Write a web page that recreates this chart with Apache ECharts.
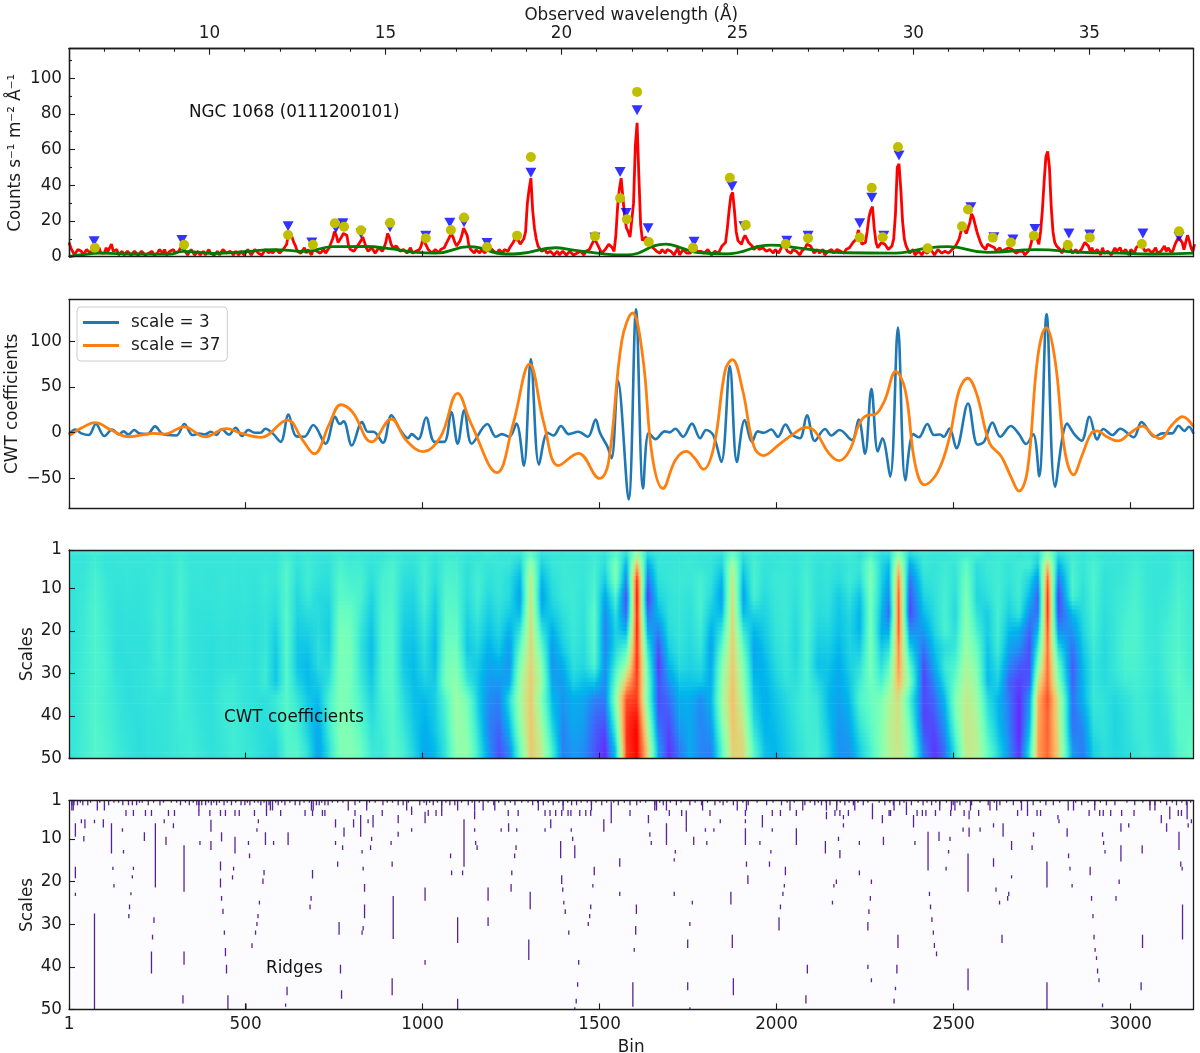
<!DOCTYPE html>
<html>
<head>
<meta charset="utf-8">
<style>html,body{margin:0;padding:0;background:#fff}#chart{width:1200px;height:1053px}</style>
<script src="https://cdn.jsdelivr.net/npm/echarts@6/dist/echarts.min.js"></script>
</head>
<body>
<div id="chart"></div>
<script>
// ---------- spectrum: values at bins 1,11,21,... and at bins 6,16,26,... ----------
const spectrumStep = 10;
const spectrumA = [
8,3,2,4,1,4,2,5,3,2, 2,3,7,2,1,3,1,2,1,2, 1,3,1,2,1,2,3,4,1,2, 2,3,6,3,2,3,2,1,3,2,
2,1,3,2,4,1,2,3,1,2, 2,3,2,4,3,2,3,4,2,4, 3,5,13,11,6,4,3,2,3,4, 3,2,4,3,5,14,8,11,14,6,
5,4,6,11,5,4,6,3,4,5, 13,7,4,6,3,4,3,2,3,4, 10,6,3,2,3,4,5,9,13,8, 5,12,17,6,3,4,2,3,4,5,
3,2,3,4,3,6,10,9,6,14, 38,26,10,5,3,2,3,1,3,2, 2,1,3,2,1,2,3,4,8,9, 4,3,5,8,3,28,44,22,14,12,
62,45,9,11,7,5,3,2,3,4, 3,1,5,2,4,1,3,6,2,4, 2,3,2,4,3,5,16,34,26,9, 7,12,8,6,5,4,5,3,4,2,
3,4,7,3,2,4,2,3,5,8, 4,3,2,4,2,3,2,4,3,2, 4,6,7,15,7,8,22,28,8,6, 8,6,5,10,50,38,10,4,3,1,
3,1,4,2,3,1,3,2,4,3, 5,7,14,16,14,24,18,11,6,4, 8,7,3,5,2,3,6,3,2,4, 1,3,9,14,7,26,56,50,14,6,
4,3,9,4,3,2,4,8,6,5, 2,3,5,1,4,2,3,5,1,3, 4,2,6,9,3,4,2,5,1,4, 3,6,4,9,12,4,12,5,7
];
const spectrumB = [
5,1,4,3,2,5,3,6,5,1, 5,2,3,4,2,1,3,1,3,1, 3,1,2,3,1,4,2,1,3,4, 1,5,4,1,4,1,3,2,1,4,
3,2,1,4,2,3,1,2,3,1, 4,1,4,2,1,4,2,2,4,2, 4,7,14,8,3,2,5,4,1,3, 4,3,2,5,10,12,8,13,12,4,
3,6,9,8,3,5,2,5,3,8, 11,5,6,3,4,2,5,3,2,6, 8,4,2,4,2,3,7,11,11,6, 9,16,12,4,2,3,4,2,3,4,
2,4,2,3,5,8,11,7,10,30, 44,16,6,3,4,1,2,2,1,3, 1,3,1,2,3,1,2,6,10,6, 2,4,7,5,12,38,33,16,11,30,
75,18,10,9,6,4,2,4,2,3, 2,3,1,4,2,2,5,3,3,2, 4,1,3,2,6,8,26,36,14,8, 10,10,7,4,6,3,4,2,3,4,
2,6,5,2,4,3,1,4,7,6, 2,4,3,1,3,4,1,3,2,4, 5,8,10,11,6,14,26,16,5,8, 7,4,6,24,52,20,6,2,4,2,
2,3,2,4,1,4,2,3,2,4, 6,10,17,13,19,22,14,8,5,7, 6,5,4,3,4,5,4,2,3,3, 2,5,13,10,14,42,59,28,8,5,
2,6,6,2,4,3,6,7,3,2, 4,1,2,3,1,5,4,2,4,1, 3,5,7,5,2,5,3,2,3,6, 5,2,7,11,8,8,9,3
];
const continuumBins = [1,32,92,177,283,325,410,495,580,665,749,834,919,975,1037,1133,1236,1276,1376,1417,1518,1575,1687,1730,1772,1857,1985,2059,2197,2325,2350,2430,2485,2596,2734,2861,2970,3056,3178];
const continuumVals = [0,1,2,1.5,1.4,3,1.8,2.8,4,3,5.6,5.7,4.3,2.6,2,5.6,1.5,1.8,5,4,1.5,1,7,5,2.5,1.6,6.5,5,2.2,2,2.2,5,5.6,2.4,4,2.5,2,1.5,2];
const peakBins = [74,326,620,690,752,778,826,908,1009,1080,1117,1182,1267,1306,1487,1558,1577,1606,1639,1764,1868,1913,2026,2089,2235,2269,2300,2343,2427,2524,2541,2611,2662,2727,2823,2885,3032,3137];
const peakVals = [5,6.7,12.2,6.7,18.7,16.8,14.8,19,10.3,15,22,5.4,11.8,55.8,11.4,32.8,21,92.3,8.2,5,44.2,17.8,7.1,10.3,10.7,38.6,10.9,61.4,4.7,17,26.4,10.7,8,11.8,6.5,10.7,7.1,14.2];
const triBins = [72,320,620,687,755,775,826,908,1009,1077,1117,1182,1306,1487,1558,1575,1606,1637,1767,1874,1908,2029,2089,2235,2269,2303,2346,2549,2614,2668,2730,2826,2885,3035,3137];
const triVals = [8.6,9.4,17,8,16,18.7,13,16.5,11.8,19,19.3,7.7,47,10.7,47.4,24.5,82,16,8.4,39.5,17,9,11.8,18.7,33,11.8,56.7,27.7,10.9,9.6,15.5,13,12.4,13,11];

// ---------- CWT slices ----------
const scale3Bins = [1,19,36,57,77,101,123,142,155,169,185,201,223,244,266,304,327,350,369,385,401,418,432,453,472,490,507,526,542,556,577,599,621,642,666,691,726,753,766,777,800,829,845,861,888,912,937,959,969,988,1010,1034,1061,1081,1099,1118,1139,1183,1207,1224,1245,1265,1286,1306,1329,1353,1370,1391,1413,1440,1467,1489,
1500,1509,1522,1534,1552,1582,1603,1623,1639,1658,1684,1698,1714,1736,1761,1784,1801,1821,1844,1868,1888,1910,1931,1947,1964,1985,2004,2025,2045,2066,2086,2108,2137,2155,2178,2213,2232,2250,2268,2286,2299,2321,2343,2364,2386,2402,2426,2445,2462,2472,2489,2508,2541,2568,2586,2610,2632,2662,2684,2705,2725,2742,2763,2787,2821,2841,2862,2884,2906,2923,2949,2971,3009,3031,3068,3090,3117,3136,3152,3165,3178];
const scale3Vals = [-1.5,3.6,-0.7,-2.5,9.5,-3.6,3.6,-2,1.5,-2,3,-1,-1.5,7,-1.5,-3,9.5,-2.5,-1,-2,1,-2.5,4,-2,5.5,-3.6,3,0,0,4.4,-1,-10,20,-3.6,-4.4,8.4,-12,17.5,9.5,12.4,-14,11.6,1,1,-11,19,3,-6,-1.5,-7,16.7,-10,-10,22.5,-12,24.7,-12,9.5,-4.4,-1.5,-4.4,10,-36,80.7,-35,0,-3,7.3,-1.5,1,-4.4,14.5,
1,-6,-15,-28,57,-73,135,-61,0,-7,1.5,0.4,4.4,-4.4,10,-6,3,-2.5,-32,73,-32,14,-10,1.5,0,3.6,-4.4,9,-2.5,-6,19,-9,4,-3,3,-8,14.5,-23,48,-20.5,-6,-48,115,-52,-1.5,-5,9.5,-2.5,-2,-4.4,4.7,-17,32,-13,-10,11,-4.4,7.3,-1,-12.4,-1.5,-47.5,130,-59,10,-1.5,-8.7,17.5,-7.3,4,-2.5,4.4,-5,11.6,-4.4,-0.7,-0.7,7.6,2,6.5,-1];
const scale37Bins = [1,39,75,120,169,239,271,326,385,445,488,544,618,661,694,737,769,802,856,912,953,1002,1051,1099,1137,1210,1256,1302,1343,1384,1440,1500,1525,1563,1593,1622,1649,1679,1714,1745,1769,1793,1823,1855,1875,1904,1936,1963,2007,2050,2083,2110,2148,2177,2207,2234,2256,2278,2305,2337,2364,2391,2418,2456,2489,2516,2540,2565,2602,2635,2662,2685,2709,2738,2762,2787,2814,2839,2862,2889,2906,2933,2965,2998,3034,3063,3084,3117,3147,3178];
const scale37Vals = [-3.3,5.8,11,2.9,-4.4,-0.7,-1.5,6.5,-4.4,4.4,-0.7,-5,13.8,-8,-23,10,30.6,22.5,-10,15,-8,-20.7,-4.4,43,10,-43.6,10,75,10,-36,-22.5,-50,-33,101,131,83,-26,-61,-30,-20.5,-28,-40,-15,68.5,80,47,-15,-25,-13,-0.7,5.8,1,-22.5,-30.5,-19,10,19,20,35,67,46,-33.5,-57,-42.5,-4.4,46.5,59.6,43,-11.6,-26,-48,-64,-41,83,115,79,-19,-46,-26,-0.7,2,-4.4,-9,-0.7,7.3,-2.5,-6.5,8.4,17.5,6.5];

// ---------- CWT image: one row per scale, one value per column bin ----------
const cwtColumnBins = [15,45,75,105,135,165,195,225,255,285, 315,345,375,405,435,465,495,525,555,585, 615,645,675,705,735,765,795,825,855,885, 915,945,975,1005,1035,1065,1095,1125,1155,1185, 1215,1245,1275,1305,1335,1365,1395,1425,1455,1485, 1515,1545,1575,1605,1635,1665,1695,1725,1755,1785, 1815,1845,1875,1905,1935,1965,1995,2025,2055,2085, 2115,2145,2175,2205,2235,2265,2295,2317,2344,2375, 2415,2445,2475,2505,2535,2565,2595,2625,2655,2685, 2715,2738,2765,2795,2835,2865,2895,2925,2955,2985, 3015,3045,3075,3105,3135,3165];
const cwtRowScales = [2,4.5,8,12,16,20,24,28,32,36,40,44,48];
const cwtRow01 = [0,0,3,0,0,0,0,0,1,0, 2,0,0,0,0,0,0,0,0,0, 5,-1,2,0,0,4,1,2,0,0, 4,0,0,3,0,3,3,0,-1,3, 0,0,0,18,-4,0,0,1,0,3, -2,14,-6,42,-8,0,0,0,2,0, 0,-3,20,-3,4,0,0,1,0,3, 0,0,0,4,-3,10,-4,-6,32,-8, 2,0,0,2,5,6,0,3,2,0, 2,-4,34,-6,4,0,3,0,0,1, 2,1,0,0,3,1];
const cwtRow02 = [0,0,5,-1,0,0,0,0,2,0, 5,0,0,0,0,0,0,0,0,0, 10,-2,4,-1,-2,9,4,4,-2,3, 9,-1,-2,7,-3,7,6,-3,3,-1, 1,0,-12,42,-12,0,2,1,0,5, -5,30,-26,85,-28,1,0,1,2,0, -1,-11,48,-13,8,-2,0,1,-1,5, -2,0,-3,1,0,25,-8,-20,72,-28, 2,-1,3,0,18,-4,2,4,-1,4, 5,-14,78,-24,7,0,8,0,0,1, 5,1,0,0,6,2];
const cwtRow03 = [0,1,8,1,-1,0,-1,0,3,-1, 7,0,0,-1,1,0,0,-1,2,0, 13,-5,5,-3,-4,13,7,8,-5,7, 11,-4,-5,8,-5,10,9,-4,6,-3, 1,-6,-22,58,-22,-4,2,2,0,8, -14,30,-40,125,-46,-3,1,2,1,7, -3,-22,60,-22,9,-3,2,2,-1,7, -3,0,-6,3,-5,30,-10,-28,100,-45, -3,-1,5,-2,24,-6,0,5,-2,5, -10,-35,112,-45,10,-2,10,-2,0,2, 8,1,0,0,7,3];
const cwtRow04 = [-1,2,9,2,-2,-1,-2,-1,4,-1, 7,-1,-1,-1,0,-1,0,-2,1,-3, 12,-8,2,-7,-7,15,13,8,-10,8, 11,-7,-9,8,-11,13,11,-6,6,-8, 0,-7,-30,62,-30,-7,1,3,-2,11, -28,10,-58,135,-62,-10,-2,1,-2,8, -7,-30,66,-30,7,-7,1,3,-3,8, -4,-2,-14,-2,-18,28,-14,-38,112,-55, -10,-3,7,-5,30,-9,-4,6,-6,4, -22,-50,125,-60,8,-5,9,-3,1,4, 9,1,0,2,9,4];
const cwtRow05 = [-1,3,10,3,-3,-2,-2,-1,5,-2, 8,-1,-2,-2,0,-2,-1,-3,0,-6, 14,-10,-5,-6,-11,22,20,4,-14,10, 12,-10,-12,4,-15,16,15,-10,2,-13, -4,-14,-20,66,-20,-14,-4,3,-3,16, -36,-4,-50,130,-45,-22,-3,1,-4,7, -15,-20,70,-20,-10,-10,0,3,-5,10, -6,-4,-16,-8,-22,26,-20,-48,115,-58, -20,-6,8,-8,34,-2,-14,7,-12,0, -38,-45,125,-55,-22,-6,8,-5,1,6, 10,2,0,4,11,4];
const cwtRow06 = [-1,3,10,4,-3,-3,-3,-2,5,-2, 7,-1,-3,-3,-1,-3,-1,-4,0,-11, 14,-13,-11,-6,-13,26,24,0,-17,10, 13,-13,-15,0,-18,18,18,-13,-3,-18, -8,-25,0,68,0,-25,-8,2,-4,16, -40,-10,-25,130,-25,-40,-6,0,-6,4, -25,0,72,2,-22,-14,-2,3,-7,10, -10,-8,-18,-10,-22,28,-25,-25,112,-35, -32,-10,8,-4,38,8,-14,6,-20,-25, -50,-20,115,-35,-35,-10,6,-6,1,8, 10,2,0,6,11,5];
const cwtRow07 = [-1,4,10,5,-4,-3,-3,-2,5,-2, 6,-1,-3,-4,-2,-3,-1,-4,1,-14, 14,-15,-16,-4,-12,28,26,-2,-20,10, 14,-15,-18,-4,-20,22,24,-16,-8,-24, -14,-32,18,70,18,-32,-14,0,-6,14, -38,-8,10,125,0,-55,-12,-2,-8,0, -30,16,74,18,-28,-18,-4,2,-8,9, -14,-12,-22,-10,-14,28,-14,-5,100,-10, -45,-18,-5,0,42,20,-18,4,-28,-35, -55,5,108,-5,-45,-15,3,-7,1,9, 10,3,0,7,12,5];
const cwtRow08 = [0,4,10,6,-3,-4,-3,-2,4,-1, 6,-1,-3,-4,-2,-3,-1,-4,2,-16, 14,-16,-20,-6,-8,28,26,0,-18,10, 14,-14,-20,-6,-18,25,30,-8,-14,-28, -24,-34,32,72,32,-34,-24,-4,-8,10, -36,4,40,125,15,-62,-22,-6,-10,-6, -28,30,76,30,-26,-22,-8,1,-6,8, -18,-16,-26,-12,-4,28,-5,15,95,15, -55,-26,2,10,48,28,-20,-4,-36,-50, -55,30,108,20,-52,-20,0,-7,0,8, 8,3,-1,7,14,6];
const cwtRow09 = [0,5,10,6,-1,-4,-3,-1,2,-1, 6,0,-3,-4,1,2,-1,-4,3,-16, 14,-10,-20,-14,-2,29,26,3,-15,11, 14,-10,-20,-12,-14,28,36,2,-15,-32, -32,-28,42,74,40,-28,-32,-10,-18,-15, -38,20,80,120,25,-55,-35,-15,-16,-14, -26,36,78,38,-20,-24,-12,-2,-4,7, -8,-18,-28,-16,4,24,8,30,85,30, -58,-38,-6,20,54,35,-20,-10,-48,-58, -50,60,108,35,-50,-22,0,-6,-2,4, 6,3,-2,6,16,9];
const cwtRow10 = [0,6,11,6,0,-4,-3,-1,-1,-1, 5,1,-3,-3,3,3,-1,-3,-4,3, 13,0,-15,-20,8,30,25,8,-10,8, 14,-5,-18,-20,-12,12,42,25,-12,-35, -40,-5,45,75,30,-20,-33,-25,-27,-40, -40,35,115,120,25,-55,-45,-25,-24,-36, -22,40,80,45,-14,-25,-16,-8,0,6, 0,-20,-30,-20,11,20,28,47,66,8, -56,-47,-20,30,58,43,-5,-22,-42,-64, -30,83,115,60,-45,-23,1,-2,-8,-3, 4,2,-4,3,14,13];
const cwtRow11 = [0,6,11,7,1,-3,-4,-2,-1,0, 4,2,-2,-3,2,4,0,-2,-5,0, 13,4,-14,-24,6,30,28,12,-6,6, 14,-2,-16,-22,-14,8,42,30,-8,-38, -44,-14,42,76,40,-14,-36,-26,-30,-46, -50,22,120,130,40,-50,-52,-28,-26,-38, -28,34,78,55,-8,-24,-18,-10,-1,6, 2,-18,-32,-26,4,18,30,50,64,18, -58,-52,-28,24,60,48,2,-20,-40,-66, -25,85,110,62,-46,-32,-2,-2,-9,-4, 3,3,-4,1,14,15];
const cwtRow12 = [0,6,12,8,2,-2,-4,-3,-1,0, 3,3,-1,-3,1,4,1,-2,-6,-4, 12,8,-10,-28,2,30,30,16,-2,4, 14,2,-14,-26,-16,4,40,34,-2,-38, -50,-24,34,76,48,-4,-40,-28,-32,-50, -58,6,122,135,55,-40,-58,-34,-26,-38, -34,24,76,62,2,-22,-20,-12,-3,5, 4,-14,-34,-30,-4,14,32,52,62,28, -52,-58,-36,14,60,52,10,-16,-38,-66, -14,88,110,66,-42,-38,-6,-2,-9,-5, 2,3,-4,-1,13,16];
const cwtRow13 = [1,6,12,9,3,-1,-4,-3,-2,0, 2,4,0,-3,0,4,2,-1,-6,-8, 11,12,-4,-30,-4,28,32,22,2,2, 14,6,-10,-28,-20,0,36,38,4,-32, -54,-36,22,76,56,8,-40,-32,-36,-52, -64,-14,120,135,70,-28,-62,-42,-26,-38, -40,14,72,68,14,-18,-22,-14,-5,4, 6,-10,-34,-34,-12,8,32,50,60,36, -42,-62,-44,2,58,54,20,-8,-34,-62, 0,90,108,70,-32,-42,-12,-4,-8,-6, 0,3,-3,-3,10,18];
const cwtRows = [cwtRow01,cwtRow02,cwtRow03,cwtRow04,cwtRow05,cwtRow06,cwtRow07,cwtRow08,cwtRow09,cwtRow10,cwtRow11,cwtRow12,cwtRow13];
const cwtMin = -75, cwtMax = 135;

// ---------- ridges: [bin, scale from, scale to] ----------
const deepRidges = [
[19,6.3,9.5],[19,16.5,19.2],[19,22.6,23.4],[43,9.3,10.6],[46,5.4,7.5],[36,5.4,6.3],[73,27.5,50],[73,5.5,6.3],[98,5.4,7.3],[121,6.3,13.4],[125,16.5,17.3],[128,20.6,21.4],[152,7.5,8.3],[155,12.6,13.4],[183,16.5,17.3],[180,18.5,19.3],[176,22.5,23.2],[172,25.4,26.5],[170,27.6,28.6],[214,8.4,10.5],[245,6.3,21.4],[241,28.4,29.7],[237,32.5,33.6],[234,36.4,41.6],[275,9.5,11.4],[270,5.4,6.3],[296,6.3,7.5],[326,11.5,22.4],[326,36.4,39.5],[323,46.7,48.6],[371,10.5,11.4],[402,5.5,8.3],[402,10.5,12.6],[432,8.4,10.6],[429,15.3,17.4],[429,19.3,21.4],[432,23.4,24.5],[436,26.4,27.6],[440,31.5,32.5],[443,35.6,37.5],[446,39.5,41.6],[450,46.7,50],[470,9.5,13.4],[466,16.5,17.4],[463,18.5,19.5],[508,10.5,11.4],[511,13.4,14.5],[501,48.6,50],[536,5.4,6.3],[532,7.5,8.3],[556,8.4,11.4],[579,10.5,11.4],[620,8.4,11.4],[552,17.3,18.5],[549,19.3,20.6],[539,24.5,25.4],[535,27.6,28.6],[532,29.5,30.4],[528,31.5,32.5],[518,34.5,35.6],[617,44.7,46.7],[613,48.6,49.4],[689,17.3,19.3],[685,23.4,24.5],[682,25.4,26.5],[754,10.5,11.4],[760,15.3,16.5],[764,29.5,32.5],[768,39.5,41.6],[771,45.5,47.5],[754,5.4,7.3],[778,7.3,9.5],[774,11.5,12.6],[805,5.4,7.3],[825,4.4,9.5],[829,12.6,13.4],[832,16.5,17.4],[836,20.6,22.4],[836,25.4,28.6],[832,30.4,31.5],[829,31.5,32.5],[856,9.5,10.5],[853,11.5,12.6],[860,4.4,7.3],[846,5.4,6.3],[911,10.5,11.4],[914,15.3,16.5],[917,23.4,33.5],[914,42.7,46.7],[931,4.4,6.3],[931,8.3,9.5],
[969,7.5,8.3],[969,2.4,4.4],[1007,3.6,6.3],[1079,13.4,14.5],[1082,17.4,18.5],[1117,5.4,16.5],[1113,17.4,18.5],[1007,21.4,24.5],[1007,38.4,39.5],[1099,28.4,34.4],[1099,47.5,50],[1147,3.3,5.4],[1147,7.5,8.3],[1150,10.5,11.4],[1154,11.5,12.6],[1185,21.4,24.5],[1185,28.4,30.4],[1222,7.5,8.3],[1243,6.3,8.3],[1266,7.5,8.3],[1264,11.5,12.6],[1260,13.4,14.5],[1252,17.4,18.5],[1250,20.6,22.4],[1304,22.4,26.5],[1300,33.6,38.4],[1346,7.5,8.3],[1362,5.4,7.5],[1390,10.5,14.5],[1393,18.5,20.6],[1396,21.4,22.4],[1399,24.5,25.4],[1403,26.5,27.6],[1413,31.5,32.5],[1420,7.5,8.3],[1424,9.5,10.5],[1430,11.5,14.5],[1441,38.4,39.5],[1438,43.6,44.7],[1434,47.5,48.6],[1430,49.5,50],[1485,16.5,18.5],[1481,20.6,21.4],[1475,25.4,26.5],[1472,27.6,28.6],[1468,29.5,30.4],[1512,5.4,8.3],[1533,1.2,6.3],[1557,14.5,16.5],[1557,22.4,23.4],[1604,25.4,27.6],[1602,30.4,32.5],[1598,35.6,36.5],[1594,43.6,49.4],[1638,4.4,6.3],[1642,8.4,9.5],[1646,10.5,11.4],[1689,6.3,11.4],[1714,12.6,13.4],[1711,14.5,15.3],[1711,22.4,23.4],[1762,24.5,25.4],[1755,29.5,30.4],[1749,33.6,35.6],[1749,43.6,45.5],[1755,49.5,50],[1745,3.3,8.3],[1766,9.5,11.4],[1799,7.5,8.3],[1803,10.5,11.4],[1823,7.5,8.3],[1841,5.4,6.3],[1871,22.4,25.4],[1875,32.5,35.6],[1878,42.7,46.7],[1912,5.4,6.3],[1912,7.5,11.4],[1915,15.3,16.5],[1919,18.5,20.6],[1953,10.5,11.4],[1960,4.4,7.3],[1988,7.5,8.3],[1984,12.6,13.4],[1980,15.3,16.5],[2025,16.5,18.5],[2022,20.6,21.4],[2018,22.4,23.4],[2011,25.4,26.5],[2007,28.4,31.5],[2056,7.5,11.4],
[2138,10.5,13.4],[2141,3.6,5.4],[2175,9.5,10.5],[2179,12.6,14.5],[2169,19.5,20.6],[2162,20.6,21.4],[2158,24.5,25.4],[2087,39.5,41.6],[2083,46.7,48.6],[2189,4.4,5.4],[2189,6.3,7.3],[2234,10.5,11.4],[2234,17.4,18.5],[2268,19.5,20.6],[2265,23.4,24.5],[2261,26.5,27.6],[2258,29.5,31.5],[2258,39.5,40.5],[2268,42.7,43.6],[2271,1.6,5.4],[2299,4.4,6.3],[2302,9.5,11.4],[2343,32.5,35.6],[2340,39.5,41.6],[2336,44.7,45.5],[2332,47.5,48.6],[2367,1.2,4.4],[2387,4.4,7.3],[2391,10.5,11.4],[2428,8.3,17.4],[2432,22.4,23.4],[2435,25.4,26.5],[2439,28.4,29.5],[2443,31.5,32.5],[2446,34.4,35.6],[2452,36.4,37.5],[2459,8.3,10.5],[2490,9.5,10.5],[2486,12.6,13.4],[2479,16.5,17.4],[2541,13.4,22.4],[2541,40.4,45.5],[2544,7.3,9.5],[2544,3.3,5.4],[2527,7.3,8.3],[2575,7.3,8.3],[2613,6.3,7.3],[2640,6.3,9.5],[2664,10.5,12.6],[2613,14.5,16.5],[2620,21.4,22.4],[2630,24.5,25.4],[2656,22.4,23.4],[2653,23.4,24.5],[2664,18.5,19.3],[2637,32.5,34.4],[2764,15.3,21.4],[2764,43.6,50],[2726,8.4,9.5],[2722,11.5,12.6],[2821,7.5,9.5],[2825,13.4,14.5],[2829,16.5,17.4],[2835,20.6,21.4],[2886,16.5,18.5],[2890,23.4,24.5],[2894,27.6,28.6],[2897,32.5,33.6],[2900,35.6,36.5],[2904,37.5,38.4],[2907,40.4,41.6],[2911,42.7,43.6],[2921,48.6,49.5],[2921,8.4,9.5],[2924,10.5,11.4],[2928,12.6,13.4],[2973,6.3,8.3],[2973,11.5,15.3],[2968,19.5,20.6],[2959,23.4,24.5],[3034,32.5,35.6],[3033,11.5,13.4],[3030,43.6,45.5],[3137,8.3,12.6],[3142,15.3,16.5],[3146,16.5,17.4],[3147,25.4,33.6],[3102,6.3,8.3],[2995,6.3,7.3],[3163,6.3,7.3],[3172,5.4,6.3],[3160,1.2,5.4],[3111,2.4,5.4],[3087,4.4,6.3],[2795,4.4,5.4],[2798,5.4,6.3]];
const ridgeShortBins = [9,15,25,40,54,113,153,169,180,192,225,258,316,341,362,368,376,387,403,418,439,460,487,498,512,543,566,592,611,640,653,700,708,724,733,809,842,888,931,945,992,1011,1030,1054,1077,1091,1129,1201,1233,1261,1311,1341,1369,1397,1421,1435,1477,1506,1553,1586,1605,1656,1680,1717,1755,1788,1826,1849,1878,1920,1972,2014,2080,2108,2127,2151,2170,2193,2217,2245,2306,2330,2348,2381,2414,2438,2461,2499,2518,2551,2598,2631,2669,2725,2761,2782,2862,2899,2932,2956,3012,3055,3069,3102,3130,3158];
const ridgeMidBins = [9,13,81,101,559,570,576,790,842,686,691,368,955,1054,1099,1147,1171,1204,1327,1397,1477,1656,1661,1689,1791,1889,1915,2038,2074,2141,2170,2221,2332,2461,2494,2504,2548,2603,2622,2692,2709,2824,2839,2899,3055,3069];
const ridgeLowBins = [162,183,217,234,282,299,368,399,429,443,470,482,525,559,599,668,689,717,724,809,886,1016,1038,1054,1242,1270,1346,1360,1376,1393,1411,1419,1444,1461,1475,1586,1697,1732,1812,1912,1988,2011,2056,2165,2179,2203,2318,2322,2397,2412,2422,2449,2492,2530,2571,2681,2709,2736,2746,2883,2913,2923,2944,2975,3010,3135,3144];
const ridgeFringeBins = [33,62,88,128,141,200,208,240,268,290,305,330,352,395,410,426,448,472,505,525,535,552,585,602,625,665,680,715,745,760,775,822,850,866,900,915,960,1004,1020,1042,1066,1110,1140,1160,1185,1215,1248,1280,1298,1325,1355,1385,1410,1448,1465,1490,1520,1540,1570,1615,1630,1670,1700,1730,1770,1805,1840,1860,1905,1945,1990,2030,2050,2095,2118,2140,2180,2205,2230,2258,2290,2320,2360,2400,2425,2450,2480,2510,2535,2575,2615,2650,2690,2745,2800,2845,2880,2915,2990,3035,3085,3118,3145,3170];

// ---------- tick labels ----------
const binTicks = [1,500,1000,1500,2000,2500,3000];
const scaleTicks = [1,10,20,30,40,50];
const lambdaTicks = [10,15,20,25,30,35];
const lambdaMinorTicks = [7,8,9,11,12,13,14,16,17,18,19,21,22,23,24,26,27,28,29,31,32,33,34,36,37];
const countTicks = [0,20,40,60,80,100];
const countMinorTicks = [10,30,50,70,90,110];
const cwtTicks = [-50,0,50,100];

// ---------- helpers ----------
const FONT = '"DejaVu Sans"';
const INK = '#1c1c1c';
const FS = 16.8;
const BIN_MIN = 1, BIN_MAX = 3178;
const grids = [
  {left:69,width:1124.5,top:48.7,height:208,outerBoundsMode:'none'},
  {left:69,width:1124.5,top:299.5,height:208.7,outerBoundsMode:'none'},
  {left:69,width:1124.5,top:550,height:208.6,outerBoundsMode:'none'},
  {left:69,width:1124.5,top:800.6,height:208.8,outerBoundsMode:'none',show:true,borderWidth:0,backgroundColor:'#fcfbfd'}
];
function ax(o, tickVals, len, labels){
  const base = {type:'value',z:10,splitLine:{show:false},nameMoveOverlap:false,
    axisLine:{show:true,onZero:false,lineStyle:{color:INK,width:1.3}},
    axisTick:{show:!!tickVals,inside:true,length:len||6,customValues:tickVals||undefined,lineStyle:{color:INK,width:1.1}},
    axisLabel:{show:!!labels,margin:7,fontFamily:FONT,fontSize:FS,color:INK,customValues:tickVals||undefined,
      formatter:v=>String(v).replace('-','\u2212')},
    nameTextStyle:{fontFamily:FONT,fontSize:FS,color:INK},nameLocation:'middle'};
  return Object.assign(base,o);
}
const xAxes = [];
const yAxes = [];
const xMain = [], yMain = [];
const lambdaLeft = 6.008, lambdaRight = 37.96;
grids.forEach((g,i)=>{
  xMain[i] = xAxes.length;
  const bottomLabel = i===3;
  xAxes.push(ax(Object.assign({gridIndex:i,position:'bottom',min:BIN_MIN,max:BIN_MAX},bottomLabel?{name:'Bin',nameGap:30}:{}),binTicks,6,bottomLabel));
  if(i===0){
    xAxes.push(ax({gridIndex:i,position:'top',min:lambdaLeft,max:lambdaRight,name:'Observed wavelength (\u00c5)',nameGap:25},lambdaTicks,6,true));
    xAxes.push(ax({gridIndex:i,position:'top',min:lambdaLeft,max:lambdaRight},lambdaMinorTicks,3,false));
  } else {
    xAxes.push(ax({gridIndex:i,position:'top',min:BIN_MIN,max:BIN_MAX}));
  }
  yMain[i] = yAxes.length;
  if(i===0){
    yAxes.push(ax({gridIndex:i,position:'left',min:0,max:116.5,name:'Counts s\u207b\u00b9 m\u207b\u00b2 \u00c5\u207b\u00b9',nameGap:45},countTicks,6,true));
    yAxes.push(ax({gridIndex:i,position:'left',min:0,max:116.5},countMinorTicks,3,false));
  } else if(i===1){
    yAxes.push(ax({gridIndex:i,position:'left',min:-82.6,max:145.8,name:'CWT coefficients',nameGap:48},cwtTicks,6,true));
  } else {
    yAxes.push(ax({gridIndex:i,position:'left',min:1,max:50,inverse:true,name:'Scales',nameGap:33},scaleTicks,6,true));
  }
  yAxes.push(ax({gridIndex:i,position:'right',min:yAxes[yAxes.length-1].min,max:yAxes[yAxes.length-1].max,inverse:i>1}));
});
const zip = (a,b)=>a.map((v,i)=>[v,b[i]]);

// matplotlib "rainbow" colour map
function rainbow(t){
  t=Math.max(0,Math.min(1,t));
  const r=Math.min(1,Math.abs(2*t-0.5)),g=Math.sin(Math.PI*t),b=Math.cos(Math.PI*t/2);
  return 'rgb('+Math.round(r*255)+','+Math.round(g*255)+','+Math.round(b*255)+')';
}
const toT = v=>(v-cwtMin)/(cwtMax-cwtMin);

// one cell between each pair of neighbouring row/column centres; painted like imshow's bilinear display
const cwtCells = [];
const nCols = cwtColumnBins.length, nRows = cwtRows.length;
for(let r=-1;r<nRows;r++){
  const r0=Math.max(r,0), r1=Math.min(r+1,nRows-1);
  const s0=r<0?1:cwtRowScales[r], s1=r+1>=nRows?50:cwtRowScales[r+1];
  for(let k=-1;k<nCols;k++){
    const k0=Math.max(k,0), k1=Math.min(k+1,nCols-1);
    const b0=k<0?BIN_MIN:cwtColumnBins[k], b1=k+1>=nCols?BIN_MAX:cwtColumnBins[k+1];
    cwtCells.push([b0,b1,s0,s1,cwtRows[r0][k0],cwtRows[r0][k1],cwtRows[r1][k0],cwtRows[r1][k1]]);
  }
}
const SUB = 4;
function renderCell(params,api){
  const p0=api.coord([api.value(0),api.value(2)]);
  const p1=api.coord([api.value(1),api.value(3)]);
  const a0=toT(api.value(4)),b0=toT(api.value(5)),a1=toT(api.value(6)),b1=toT(api.value(7));
  const h=(p1[1]-p0[1])/SUB, children=[];
  for(let j=0;j<SUB;j++){
    const f=(j+0.5)/SUB, a=a0+(a1-a0)*f, b=b0+(b1-b0)*f, stops=[];
    for(let i=0;i<=5;i++){stops.push({offset:i/5,color:rainbow(a+(b-a)*i/5)});}
    children.push({type:'rect',shape:{x:p0[0],y:p0[1]+j*h,width:p1[0]-p0[0]+0.6,height:h+0.6},
      style:{fill:new echarts.graphic.LinearGradient(0,0,1,0,stops)}});
  }
  return {type:'group',children:children};
}
const ridgeRows = deepRidges
  .concat(ridgeShortBins.map(b=>[b,1,2.1]))
  .concat(ridgeMidBins.map(b=>[b,1,3.3]))
  .concat(ridgeLowBins.map(b=>[b,3.2,4.6]))
  .concat(ridgeFringeBins.map(b=>[b,1,1.5]));
function renderRidge(params,api){
  const a=api.coord([api.value(0),api.value(1)]);
  const b=api.coord([api.value(0),api.value(2)]);
  return {type:'line',shape:{x1:a[0],y1:a[1],x2:b[0],y2:b[1]},style:{stroke:'#56249a',lineWidth:1.3}};
}
const spectrumData = [];
spectrumA.forEach((v,i)=>{
  spectrumData.push([1+i*spectrumStep,v]);
  if(i<spectrumB.length) spectrumData.push([6+i*spectrumStep,spectrumB[i]]);
});

const series = [
  {type:'line',name:'spectrum',xAxisIndex:xMain[0],yAxisIndex:yMain[0],data:spectrumData,showSymbol:false,
   lineStyle:{color:'#ff0000',width:2.8},itemStyle:{color:'#ff0000'},z:3,silent:true,clip:true},
  {type:'line',name:'continuum',xAxisIndex:xMain[0],yAxisIndex:yMain[0],data:zip(continuumBins,continuumVals),smooth:true,showSymbol:false,
   lineStyle:{color:'#007b00',width:2.8},z:4,silent:true},
  {type:'scatter',name:'tri',xAxisIndex:xMain[0],yAxisIndex:yMain[0],data:zip(triBins,triVals),symbol:'triangle',symbolRotate:180,symbolSize:[11,10],
   itemStyle:{color:'#0000ff'},z:5,silent:true},
  {type:'scatter',name:'peak',xAxisIndex:xMain[0],yAxisIndex:yMain[0],data:zip(peakBins,peakVals),symbol:'circle',symbolSize:10,
   itemStyle:{color:'#bfbf00',opacity:1},z:6,silent:true},
  {type:'line',name:'scale = 3',xAxisIndex:xMain[1],yAxisIndex:yMain[1],data:zip(scale3Bins,scale3Vals),smooth:0.35,showSymbol:false,
   lineStyle:{color:'#1f77b4',width:2.6},itemStyle:{color:'#1f77b4'},z:3,silent:true},
  {type:'line',name:'scale = 37',xAxisIndex:xMain[1],yAxisIndex:yMain[1],data:zip(scale37Bins,scale37Vals),smooth:0.4,showSymbol:false,
   lineStyle:{color:'#ff7f0e',width:2.8},itemStyle:{color:'#ff7f0e'},z:4,silent:true},
  {type:'custom',name:'cwt',xAxisIndex:xMain[2],yAxisIndex:yMain[2],data:cwtCells,renderItem:renderCell,clip:true,silent:true,encode:{x:[0,1],y:[2,3]},z:2,animation:false},
  {type:'custom',name:'ridges',xAxisIndex:xMain[3],yAxisIndex:yMain[3],data:ridgeRows,renderItem:renderRidge,clip:true,silent:true,encode:{x:0,y:[1,2]},z:2,animation:false}
];

const note = (x,y,text)=>({type:'text',left:x,top:y,z:20,style:{text:text,fontFamily:FONT,fontSize:FS,fill:'#111'}});
const option = {
  animation:false,backgroundColor:'#ffffff',
  grid:grids,xAxis:xAxes,yAxis:yAxes,series:series,
  legend:{data:['scale = 3','scale = 37'],selectedMode:false,orient:'vertical',left:77,top:307,z:20,
    itemWidth:36,itemHeight:3,icon:'rect',itemGap:6,padding:[7,7,7,6],backgroundColor:'#fff',borderColor:'#ccc',borderWidth:1,borderRadius:4,
    textStyle:{fontFamily:FONT,fontSize:FS,color:INK,padding:[0,0,0,7]}},
  graphic:[note(189,104,'NGC 1068 (0111200101)'),note(224,709,'CWT coefficients'),note(266,960,'Ridges')]
};
const chart = echarts.init(document.getElementById('chart'),null,{renderer:'canvas'});
chart.setOption(option);
</script>
</body>
</html>
